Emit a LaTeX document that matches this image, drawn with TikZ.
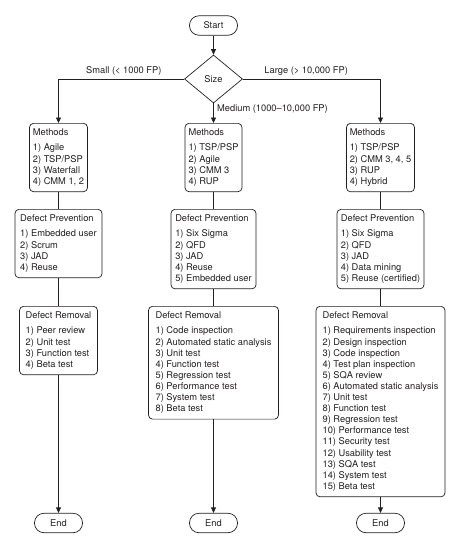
\documentclass[tikz,border=0pt]{standalone}
\usepackage{fontspec}
\setmainfont{TeX Gyre Heros}
\usetikzlibrary{arrows.meta,positioning,shapes.geometric}
\definecolor{Ink}{HTML}{231F20}

\begin{document}
\begin{tikzpicture}[x=1pt,y=-1pt,
    every node/.style={text=Ink,font=\fontsize{9.3}{11.1}\selectfont},
    terminal/.style={draw=Ink,line width=0.7pt,rounded corners=9.5pt,
      minimum width=48pt,minimum height=19.5pt,inner sep=0pt},
    decision/.style={draw=Ink,line width=0.7pt,diamond,minimum width=58pt,
      minimum height=48pt,inner sep=0pt},
    panel/.style={draw=Ink,line width=0.7pt,rounded corners=4pt,align=left,
      anchor=north,inner xsep=0pt,inner ysep=5.5pt,minimum width=#1},
    link/.style={draw=Ink,line width=0.7pt},
    arrow/.style={link,-{Triangle[length=5.5pt,width=5pt]}}
  ]
    \useasboundingbox (0,0) rectangle (460,542);
    \node[terminal] (start) at (213.5,25.5) {Start};
    \node[decision] (size) at (213.5,79) {Size};
    % methods
    \node[panel=58pt] (methL) at (58.5,123) {Methods\\[4.2pt]1) Agile\\2) TSP/PSP\\3) Waterfall\\4) CMM 1, 2};
    \node[panel=57pt] (methM) at (213.5,123) {Methods\\[4.2pt]1) TSP/PSP\\2) Agile\\3) CMM 3\\4) RUP};
    \node[panel=68pt] (methR) at (380.5,123) {Methods\\[4.2pt]1) TSP/PSP\\2) CMM 3, 4, 5\\3) RUP\\4) Hybrid};
    % defect prevention
    \node[panel=87pt] (prevL) at (58.5,209) {Defect Prevention\\[4.2pt]1) Embedded user\\2) Scrum\\3) JAD\\4) Reuse};
    \node[panel=85pt] (prevM) at (213.5,209) {Defect Prevention\\[4.2pt]1) Six Sigma\\2) QFD\\3) JAD\\4) Reuse\\5) Embedded user};
    \node[panel=87pt] (prevR) at (380.5,209) {Defect Prevention\\[4.2pt]1) Six Sigma\\2) QFD\\3) JAD\\4) Data mining\\5) Reuse (certified)};
    % defect removal
    \node[panel=78pt] (remL) at (58.5,306) {Defect Removal\\[4.2pt]1) Peer review\\2) Unit test\\3) Function test\\4) Beta test};
    \node[panel=130pt] (remM) at (213.5,306) {Defect Removal\\[4.2pt]1) Code inspection\\2) Automated static analysis\\3) Unit test\\4) Function test\\5) Regression test\\6) Performance test\\7) System test\\8) Beta test};
    \node[panel=129pt] (remR) at (380.5,306) {Defect Removal\\[4.2pt]1) Requirements inspection\\2) Design inspection\\3) Code inspection\\4) Test plan inspection\\5) SQA review\\6) Automated static analysis\\7) Unit test\\8) Function test\\9) Regression test\\10) Performance test\\11) Security test\\12) Usability test\\13) SQA test\\14) System test\\15) Beta test};
    \node[terminal] (endL) at (58.5,523) {End};
    \node[terminal] (endM) at (213.5,523) {End};
    \node[terminal] (endR) at (380.5,523) {End};
    \draw[arrow] (start) -- (size);
    \draw[arrow] (size.west) -| node[above,pos=0.24] {Small (< 1000 FP)} (methL.north);
    \draw[arrow] (size.east) -| node[above,pos=0.23] {Large (> 10,000 FP)} (methR.north);
    \draw[arrow] (size.south) -- node[right,pos=0.3] {Medium (1000--10,000 FP)} (methM.north);
    \foreach \c in {L,M,R} {
      \draw[link] (meth\c) -- (prev\c);
      \draw[link] (prev\c) -- (rem\c);
      \draw[arrow] (rem\c) -- (end\c);
    }
  \end{tikzpicture}
\end{document}
